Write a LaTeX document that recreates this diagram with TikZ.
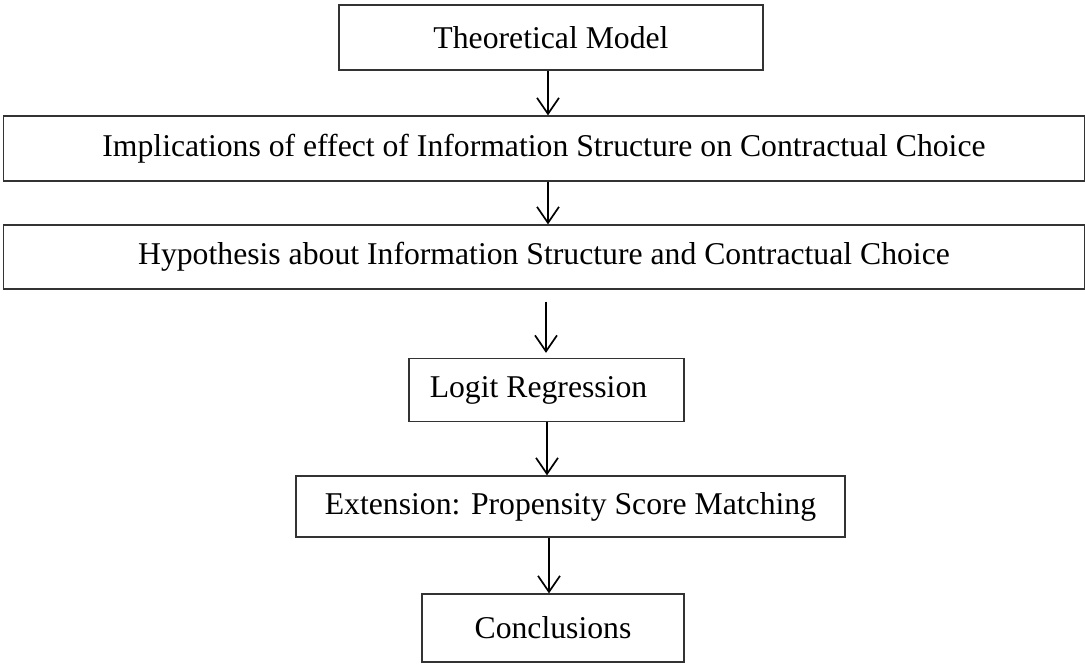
\documentclass[tikz,border=0pt]{standalone}
\usepackage{fontspec}
\setmainfont{Liberation Serif}
\usepackage{tikz}
\usetikzlibrary{positioning, arrows.meta}

\begin{document}
\begin{tikzpicture}[
      x=1pt, y=-1pt,
      >={Straight Barb[length=16pt, width=22pt]},
      every node/.style={font=\fontsize{31.7}{38}\selectfont},
      stage/.style={draw=black!80, line width=1.3pt, inner sep=0pt},
      link/.style={->, line width=1.7pt},
    ]

    \useasboundingbox (0,0) rectangle (1085,664);

    \node[stage, minimum width=424pt,  minimum height=65pt] (theory) at (551,37.5)  {Theoretical Model};
    \node[stage, minimum width=1081pt, minimum height=65pt] (implic) at (544,148.5) {Implications of effect of Information Structure on Contractual Choice};
    \node[stage, minimum width=1081pt, minimum height=64pt] (hypo)   at (544,257)   {Hypothesis about Information Structure and Contractual Choice};
    \node[stage, minimum width=275pt,  minimum height=63pt] (logit)  at (546.5,390) {Logit Regression\hspace*{16pt}};
    \node[stage, minimum width=549pt,  minimum height=61pt] (ext)    at (570.5,506.5) {Extension: Propensity Score Matching};
    \node[stage, minimum width=262pt,  minimum height=68pt] (concl)  at (553,628)   {Conclusions};

    \draw[link] ([xshift=-3pt]theory.south) -- ([xshift=-3pt]theory.south |- implic.north);
    \draw[link] ([xshift=4pt]implic.south) -- ([xshift=4pt]hypo.north);
    \draw[link, shorten <=12pt, shorten >=5pt] ([xshift=2pt]hypo.south) -- ([xshift=2pt]hypo.south |- logit.north);
    \draw[link] ([xshift=0.5pt]logit.south) -- ([xshift=0.5pt]logit.south |- ext.north);
    \draw[link] ([xshift=-4pt]ext.south -| concl.north) -- ([xshift=-4pt]concl.north);

\end{tikzpicture}
\end{document}
